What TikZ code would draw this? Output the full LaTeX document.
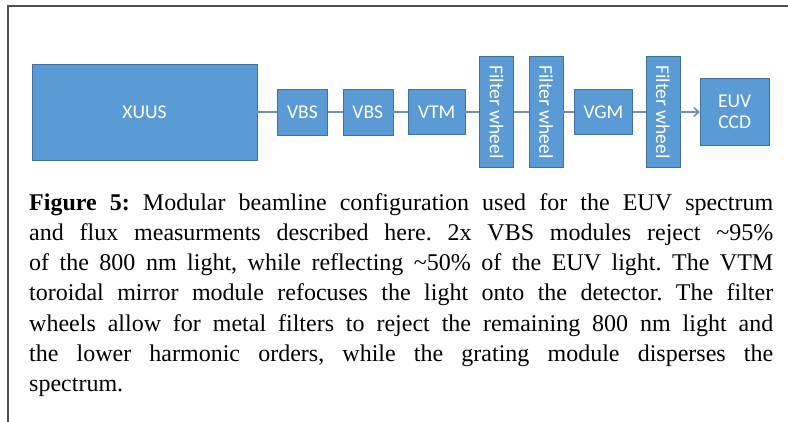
\documentclass[tikz,border=0pt]{standalone}
\usepackage{fontspec}
\usepackage{graphicx}
\setmainfont{Liberation Serif}
\newfontfamily\boxfont{Carlito}
\usetikzlibrary{positioning,arrows.meta}
\definecolor{modblue}{HTML}{5B9BD5}
\definecolor{modedge}{HTML}{41719C}
\definecolor{beamline}{HTML}{7090BC}
\definecolor{framegray}{HTML}{505050}
\frenchspacing

\begin{document}
\begin{tikzpicture}[x=1pt, y=1pt, node distance=15pt,
            module/.style = {draw=modedge, fill=modblue, text=white, inner sep=0pt,
                             font=\boxfont\fontsize{19.5}{21}\selectfont, align=center},
            small/.style = {module, minimum width=50pt, minimum height=46pt},
            filterbox/.style = {module, minimum width=34pt, minimum height=111pt},
            beam/.style = {draw=beamline, line width=1.6pt}]

    \useasboundingbox (0,0) rectangle (788,422);
    % frame round the figure
    \draw[framegray, line width=1.5pt] (8,0) -- (8,416) -- (788,416);

    % modules
    \node[module, minimum width=225pt, minimum height=96pt] (xuus) at (144.5,310) {XUUS};
    \node[small] (vbs1) [right=20pt of xuus] {VBS};
    \node[small] (vbs2) [right=of vbs1] {VBS};
    \node[small, minimum width=57pt, minimum height=45pt] (vtm) [right=of vbs2] {VTM};
    \node[filterbox] (fw1) [right=14pt of vtm] {\rotatebox{-90}{Filter wheel}};
    \node[filterbox] (fw2) [right=of fw1] {\rotatebox{-90}{Filter wheel}};
    \node[small, minimum width=58pt, minimum height=45pt] (vgm) [right=11pt of fw2] {VGM};
    \node[filterbox] (fw3) [right=13pt of vgm] {\rotatebox{-90}{Filter wheel}};
    \node[module, minimum width=69pt, minimum height=67pt] (ccd) [right=20pt of fw3] {EUV\\CCD};

    % beam path
    \draw[beam] (xuus) -- (vbs1);
    \draw[beam] (vbs1) -- (vbs2);
    \draw[beam] (vbs2) -- (vtm);
    \draw[beam] (vtm) -- (fw1);
    \draw[beam] (fw1) -- (fw2);
    \draw[beam] (fw2) -- (vgm);
    \draw[beam] (vgm) -- (fw3);
    \draw[beam, -{Straight Barb[length=5pt, width=9pt]}] (fw3) -- (ccd);

    % caption
    \node[anchor=north west, inner sep=0pt, text width=744pt, align=justify,
          font=\fontsize{24}{30.3}\selectfont] (caption) at (29,229)
        {\textbf{Figure 5:} Modular beamline configuration used for the EUV spectrum\linebreak
         and flux measurments described here. 2x VBS modules reject \textasciitilde95\%\linebreak
         of the 800 nm light, while reflecting \textasciitilde50\% of the EUV light. The VTM\linebreak
         toroidal mirror module refocuses the light onto the detector. The filter\linebreak
         wheels allow for metal filters to reject the remaining 800 nm light and\linebreak
         the lower harmonic orders, while the grating module disperses the\linebreak
         spectrum.};
\end{tikzpicture}
\end{document}
